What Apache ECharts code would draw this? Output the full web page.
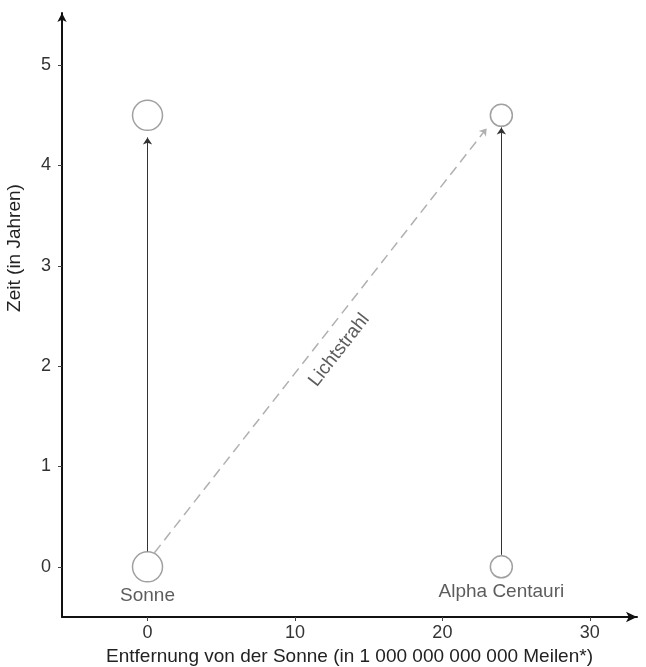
<!DOCTYPE html>
<html><head><meta charset="utf-8">
<script src="https://cdn.jsdelivr.net/npm/echarts@6/dist/echarts.min.js"></script>
<style>html,body{margin:0;padding:0;background:#fff}#c{width:646px;height:667px}</style>
</head><body><div id="c"></div>
<script>
// --- data ---
const starNames = ['Sonne', 'Alpha Centauri'];
const starX = [0, 24];
const starTimes = [0, 4.5];
const starSizes = [30, 22];            // symbol diameter (px) for Sonne, Alpha Centauri
const worldLineStart = [0.15, 0.12];   // arrow start (years)
const worldLineEnd = [4.28, 4.38];     // arrow tip (years)
const lightRayFrom = [0.47, 0.14];
const lightRayTo = [23.0, 4.37];
const lightLabelPos = [13.0, 2.16];
const xTicks = [0, 10, 20, 30];
const yTicks = [0, 1, 2, 3, 4, 5];
const xRange = [-5.8, 33.2];
const yRange = [-0.5, 5.52];

const FONT = 'Liberation Sans, Arial, sans-serif';
const chart = echarts.init(document.getElementById('c'));

const circleData = [];
starNames.forEach((n, i) => {
  starTimes.forEach((t, j) => {
    circleData.push({
      value: [starX[i], t],
      symbolSize: starSizes[i],
      label: { show: j === 0, formatter: n }
    });
  });
});

chart.setOption({
  animation: false,
  grid: { left: 62, right: 9, top: 13, bottom: 50, containLabel: false, outerBoundsMode: 'none' },
  xAxis: {
    type: 'value', min: xRange[0], max: xRange[1],
    name: 'Entfernung von der Sonne (in 1 000 000 000 000 Meilen*)',
    nameLocation: 'middle', nameGap: 28,
    nameTextStyle: { fontFamily: FONT, fontSize: 19, color: '#222' },
    axisLine: { onZero: false, symbol: ['none', 'arrow'], symbolSize: [8, 11], lineStyle: { color: '#111', width: 2 } },
    axisTick: { show: true, length: 4, customValues: xTicks, lineStyle: { color: '#444' } },
    axisLabel: { customValues: xTicks, margin: 7, fontFamily: FONT, fontSize: 18, color: '#333' },
    splitLine: { show: false }
  },
  yAxis: {
    type: 'value', min: yRange[0], max: yRange[1],
    axisLine: { onZero: false, symbol: ['none', 'arrow'], symbolSize: [7, 9], lineStyle: { color: '#111', width: 2 } },
    axisTick: { show: true, length: 4, customValues: yTicks, lineStyle: { color: '#444' } },
    axisLabel: { customValues: yTicks, margin: 11, fontFamily: FONT, fontSize: 18, color: '#333' },
    splitLine: { show: false }
  },
  graphic: [{
    type: 'text', x: 15, y: 248, rotation: Math.PI / 2,
    style: { text: 'Zeit (in Jahren)', font: '19px ' + FONT, fill: '#222', align: 'center', verticalAlign: 'middle' }
  }],
  series: [
    {
      type: 'lines', coordinateSystem: 'cartesian2d', z: 3,
      symbol: ['none', 'arrow'], symbolSize: [0, 7],
      lineStyle: { color: '#333', width: 1, opacity: 1 },
      data: starNames.map((n, i) => ({ coords: [[starX[i], worldLineStart[i]], [starX[i], worldLineEnd[i]]] }))
    },
    {
      type: 'lines', coordinateSystem: 'cartesian2d', z: 3,
      symbol: ['none', 'arrow'], symbolSize: [0, 7],
      lineStyle: { color: '#b0b0b0', width: 1.5, type: [10, 6], opacity: 1 },
      data: [{ coords: [lightRayFrom, lightRayTo] }]
    },
    {
      type: 'scatter', z: 4, symbol: 'circle',
      itemStyle: { color: '#fff', borderColor: '#888', borderWidth: 1.5 },
      label: { position: 'bottom', distance: 4, fontFamily: FONT, fontSize: 19, color: '#333' },
      data: circleData
    },
    {
      type: 'scatter', z: 5, symbolSize: 0,
      label: { show: true, position: 'inside', rotate: 52, formatter: 'Lichtstrahl', fontFamily: FONT, fontSize: 19, color: '#333' },
      data: [lightLabelPos]
    }
  ]
});
</script></body></html>
